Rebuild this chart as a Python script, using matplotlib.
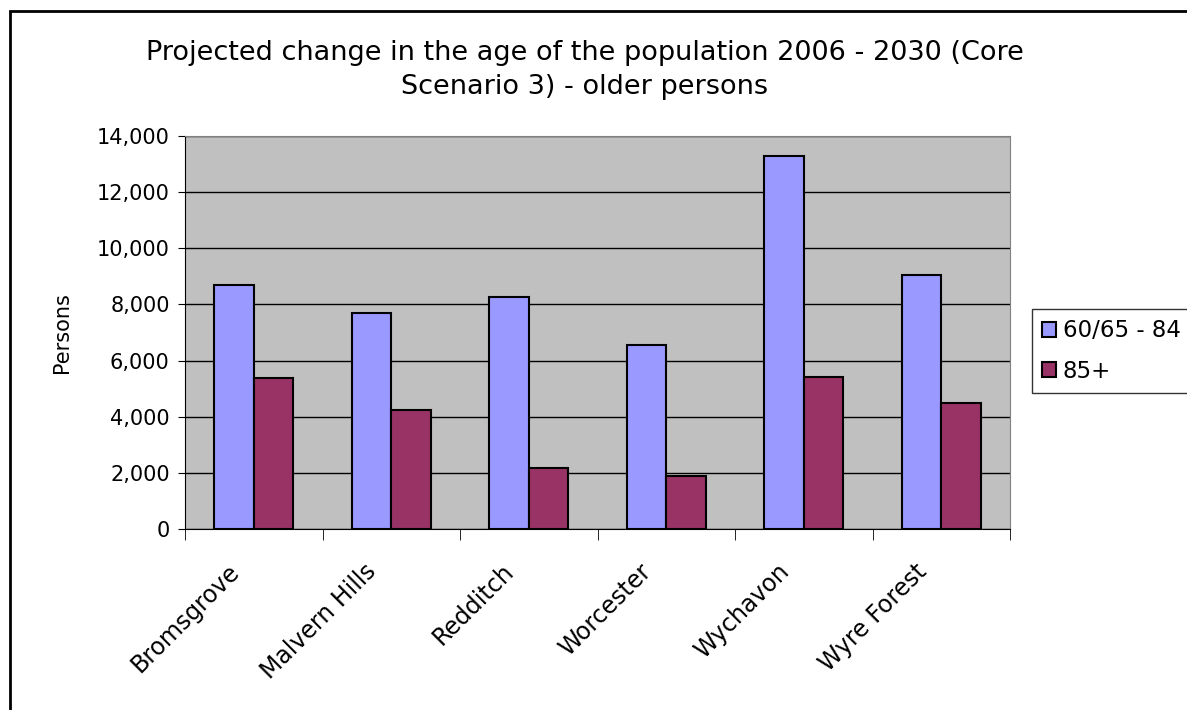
import numpy as np
import matplotlib
matplotlib.use("Agg")
import matplotlib.pyplot as plt
import matplotlib.transforms as mtransforms
from matplotlib.patches import Rectangle
from matplotlib.ticker import FuncFormatter

districts = ["Bromsgrove", "Malvern Hills", "Redditch", "Worcester", "Wychavon", "Wyre Forest"]
age_60_84 = [8700, 7700, 8270, 6560, 13290, 9040]
age_85_plus = [5370, 4240, 2170, 1900, 5430, 4500]
series_names = ["60/65 - 84", "85+"]

plt.rcParams["font.family"] = ["DejaVu Sans"]

fig = plt.figure(figsize=(11.87, 7.10), dpi=100)
fig.patches.append(Rectangle((10 / 1187, -0.1), 1.2, 1.1 - 11 / 710, transform=fig.transFigure,
                             fill=False, edgecolor="black", linewidth=2))

ax = fig.add_axes([185 / 1187, 1 - 529 / 710, 825 / 1187, 393 / 710])
ax.set_facecolor("#C0C0C0")

x = np.arange(len(districts))
w = 0.2857
ax.bar(x - w / 2, age_60_84, w, color="#9999FF", edgecolor="black", linewidth=1.5,
       label=series_names[0], zorder=3)
ax.bar(x + w / 2, age_85_plus, w, color="#993366", edgecolor="black", linewidth=1.5,
       label=series_names[1], zorder=3)

ax.set_xlim(-0.5, len(districts) - 0.5)
ax.set_ylim(0, 14000)
ax.set_yticks(range(0, 14001, 2000))
ax.yaxis.set_major_formatter(FuncFormatter(lambda v, p: f"{int(v):,}"))
ax.grid(axis="y", color="black", linewidth=1, zorder=1)
ax.tick_params(axis="y", labelsize=15, length=5, direction="out", pad=6)

ax.set_xticks(x)
ax.set_xticklabels(districts, rotation=45, ha="right", rotation_mode="anchor", fontsize=17)
ax.set_xticks(np.arange(-0.5, len(districts)), minor=True)
ax.tick_params(axis="x", which="major", length=0, pad=22)
ax.tick_params(axis="x", which="minor", length=8, direction="out")
shift = mtransforms.ScaledTranslation(-27 / 100, 0, fig.dpi_scale_trans)
for lbl in ax.get_xticklabels():
    lbl.set_transform(lbl.get_transform() + shift)

for s in ["top", "right"]:
    ax.spines[s].set_color("#808080")
for s in ["left", "bottom"]:
    ax.spines[s].set_color("black")

ax.set_ylabel("Persons", fontsize=15, labelpad=18)
fig.text(585 / 1187, 1 - 70 / 710,
         "Projected change in the age of the population 2006 - 2030 (Core\nScenario 3) - older persons",
         ha="center", va="center", fontsize=19.5, linespacing=1.35)

leg = ax.legend(loc="upper left", bbox_to_anchor=(1032 / 1187, 1 - 309 / 710),
                bbox_transform=fig.transFigure, fontsize=16.5, frameon=True, fancybox=False,
                handlelength=0.6, handleheight=0.6, handletextpad=0.3, borderaxespad=0,
                borderpad=0.45, labelspacing=0.75)
leg.get_frame().set_edgecolor("black")
leg.get_frame().set_linewidth(1)

fig.savefig("out.png", dpi=100)
